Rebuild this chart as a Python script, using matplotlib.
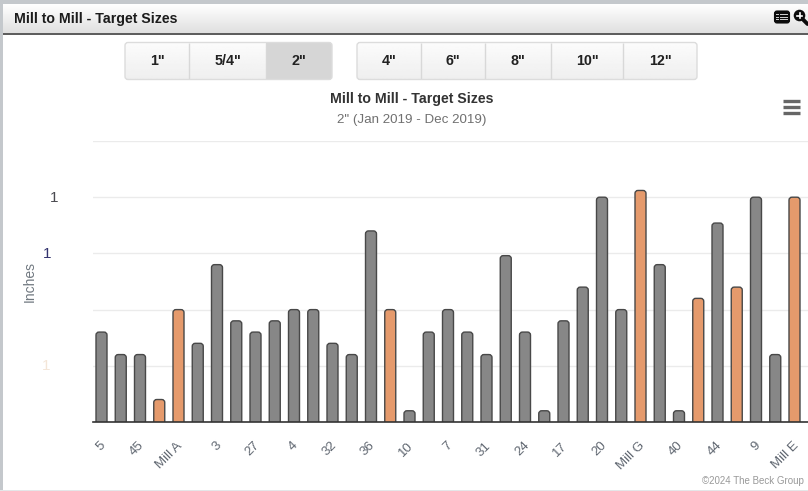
import numpy as np
import matplotlib
matplotlib.use("Agg")
import matplotlib.pyplot as plt
from matplotlib.patches import FancyBboxPatch, Rectangle, Circle
from matplotlib.transforms import blended_transform_factory, ScaledTranslation

plt.rcParams['font.family'] = ['Liberation Sans', 'DejaVu Sans']

# ---- data ----
mills = ["5", "b1", "45", "b3", "Mill A", "b5", "3", "b7", "27", "b9", "4", "b11", "32", "b13",
         "36", "b15", "10", "b17", "7", "b19", "31", "b21", "24", "b23", "17", "b25", "20", "b27",
         "Mill G", "b29", "40", "b31", "44", "b33", "9", "b35", "Mill E"]
values = [0.40, 0.30, 0.30, 0.10, 0.50, 0.35, 0.70, 0.45, 0.40, 0.45, 0.50, 0.50, 0.35, 0.30,
          0.85, 0.50, 0.05, 0.40, 0.50, 0.40, 0.30, 0.74, 0.40, 0.05, 0.45, 0.60, 1.00, 0.50,
          1.03, 0.70, 0.05, 0.55, 0.885, 0.60, 1.00, 0.30, 1.00]
highlight = [3, 4, 15, 28, 31, 33, 36]
y_ticks = [0, 0.25, 0.5, 0.75, 1.0, 1.25]
y_tick_labels = ["", "1", "", "1", "1", ""]
y_label_x = [0, 46.5, 0, 47.5, 54.5, 0]
y_label_col = ["#333333", "#f4e6d8", "#333333", "#33336e", "#4a4a50", "#333333"]
group1 = [('1"', 125, 189), ('5/4"', 189, 266), ('2"', 266, 332)]
group2 = [('4"', 357, 421), ('6"', 421, 485), ('8"', 485, 551), ('10"', 551, 623), ('12"', 623, 697)]

W, H = 808, 491
fig = plt.figure(figsize=(W / 100, H / 100), dpi=100, facecolor="white")

# ---- page chrome, in pixel coordinates ----
bg = fig.add_axes([0, 0, 1, 1], zorder=0)
bg.set_xlim(0, W)
bg.set_ylim(H, 0)
bg.axis("off")
bg.add_patch(Rectangle((0, 0), W, 4, fc="#c4c8cc", ec="none"))
bg.add_patch(Rectangle((0, 0), 2.5, H, fc="#c4c8cc", ec="none"))
bg.add_patch(Rectangle((0, 489.5), W, 1.5, fc="#e4e6e8", ec="none"))
grad = np.linspace(1, 0.875, 64).reshape(-1, 1)
bg.imshow(grad, extent=(2.5, W, 33, 4), cmap="gray", vmin=0, vmax=1, aspect="auto", zorder=1)
bg.set_xlim(0, W)
bg.set_ylim(H, 0)
bg.add_patch(Rectangle((2.5, 33), W, 1.5, fc="#5e5e5e", ec="none", zorder=2))
bg.text(14, 18.5, "Mill to Mill - Target Sizes", fontsize=10.2, fontweight="bold",
        color="#1c1c1c", va="center", ha="left", zorder=3)

# table icon
bg.add_patch(FancyBboxPatch((774.5, 11), 15, 12, boxstyle="round,pad=0,rounding_size=2.5",
                            fc="#0c0c0c", ec="#0c0c0c", lw=0.8, zorder=3))
for yy in (14.2, 17, 19.8):
    bg.add_patch(Rectangle((780, yy - 0.4), 8, 0.9, fc="#cccccc", ec="none", zorder=4))
    bg.add_patch(Rectangle((776.2, yy - 0.4), 2.3, 0.9, fc="#cccccc", ec="none", zorder=4))
# magnifier icon
bg.add_patch(Circle((799.5, 15.5), 5.8, fc="#0c0c0c", ec="none", zorder=3))
bg.plot([803, 807.5], [19.5, 24], color="#0c0c0c", lw=2.8, zorder=3, solid_capstyle="round")
bg.plot([796.7, 802.3], [15.5, 15.5], color="white", lw=1.2, zorder=4)
bg.plot([799.5, 799.5], [12.7, 18.3], color="white", lw=1.2, zorder=4)


def button_group(items, active=None):
    x0, x1 = items[0][1], items[-1][2]
    y0, y1 = 42.5, 79.5
    clip = FancyBboxPatch((x0, y0), x1 - x0, y1 - y0, boxstyle="round,pad=0,rounding_size=3",
                          fc="none", ec="#dcdcdc", lw=1, zorder=6)
    bg.add_patch(clip)
    g = np.linspace(0.985, 0.935, 32).reshape(-1, 1)
    im = bg.imshow(g, extent=(x0, x1, y1, y0), cmap="gray", vmin=0, vmax=1, aspect="auto", zorder=3)
    im.set_clip_path(clip)
    for i, (lab, a, b) in enumerate(items):
        if lab == active:
            r = Rectangle((a, y0), b - a, y1 - y0, fc="#d6d6d6", ec="none", zorder=4)
            bg.add_patch(r)
            r.set_clip_path(clip)
        if i:
            bg.plot([a, a], [y0 + 0.5, y1 - 0.5], color="#d8d8d8", lw=1, zorder=5, solid_capstyle="butt")
        bg.text((a + b) / 2, 61, lab, fontsize=10.3, fontweight="bold", color="#222222",
                ha="center", va="center", zorder=7)
    bg.set_xlim(0, W)
    bg.set_ylim(H, 0)


button_group(group1, active='2"')
button_group(group2)

bg.text(412, 98.5, "Mill to Mill - Target Sizes", fontsize=10.2, fontweight="bold", color="#333333",
        ha="center", va="center")
bg.text(411.5, 119.5, '2" (Jan 2019 - Dec 2019)', fontsize=9.6, color="#707070", ha="center", va="center")
for yy in (101, 107, 113):
    bg.plot([782.5, 799.5], [yy, yy], color="#666666", lw=2.4, solid_capstyle="butt")
bg.text(29.5, 281, "Inches", fontsize=10, color="#707880", rotation=90, ha="center", va="center")
bg.text(804, 481.5, "©2024 The Beck Group", fontsize=7, color="#999999", ha="right", va="center")

# ---- chart ----
ax_left, ax_right, ax_top, ax_bottom = 93, 808, 141, 422
ax = fig.add_axes([ax_left / W, 1 - ax_bottom / H, (ax_right - ax_left) / W, (ax_bottom - ax_top) / H],
                  zorder=2)
ax.patch.set_alpha(0)
px_per_x = 19.25
x0_val = -(101.5 - ax_left) / px_per_x
ax.set_xlim(x0_val, x0_val + (ax_right - ax_left) / px_per_x)
ax.set_ylim(0, 1.25)
px_per_y = (ax_bottom - ax_top) / 1.25

x = np.arange(len(values))
bar_w = 11 / px_per_x
rad = 3 / px_per_x
aspect = (1 / px_per_y) / (1 / px_per_x)
for i, v in zip(x, values):
    color = "#e59a6c" if i in highlight else "#878787"
    below = 4 / px_per_y
    ax.add_patch(FancyBboxPatch((i - bar_w / 2, -below), bar_w, v + below,
                                boxstyle=f"round,pad=0,rounding_size={rad}",
                                mutation_aspect=aspect, fc=color, ec="#484848", lw=1.0, zorder=3))

for s in ("top", "right", "left"):
    ax.spines[s].set_visible(False)
ax.spines["bottom"].set_color("#333333")
ax.spines["bottom"].set_linewidth(1.2)
ax.spines["bottom"].set_zorder(4)
ax.set_yticks(y_ticks)
ax.set_yticklabels([])
ax.tick_params(axis="y", length=0)
ax.grid(axis="y", color="#ebebeb", lw=1)
ax.set_axisbelow(True)

trans = blended_transform_factory(bg.transData, ax.transData)
for t, lab, lx, col in zip(y_ticks, y_tick_labels, y_label_x, y_label_col):
    if lab:
        ax.text(lx, t - 0.002, lab, transform=trans, fontsize=11, color=col, ha="center", va="center", clip_on=False)

ax.set_xticks(x[::2])
labels = ax.set_xticklabels(mills[::2], rotation=45, ha="right", va="top", rotation_mode="anchor",
                            fontsize=9.5, color="#5f6670")
ax.tick_params(axis="x", length=0, pad=12)
shift = ScaledTranslation(-2 / 100, -1 / 100, fig.dpi_scale_trans)
for lab in labels:
    lab.set_transform(lab.get_transform() + shift)

fig.savefig("out.png", dpi=100, facecolor="white")
